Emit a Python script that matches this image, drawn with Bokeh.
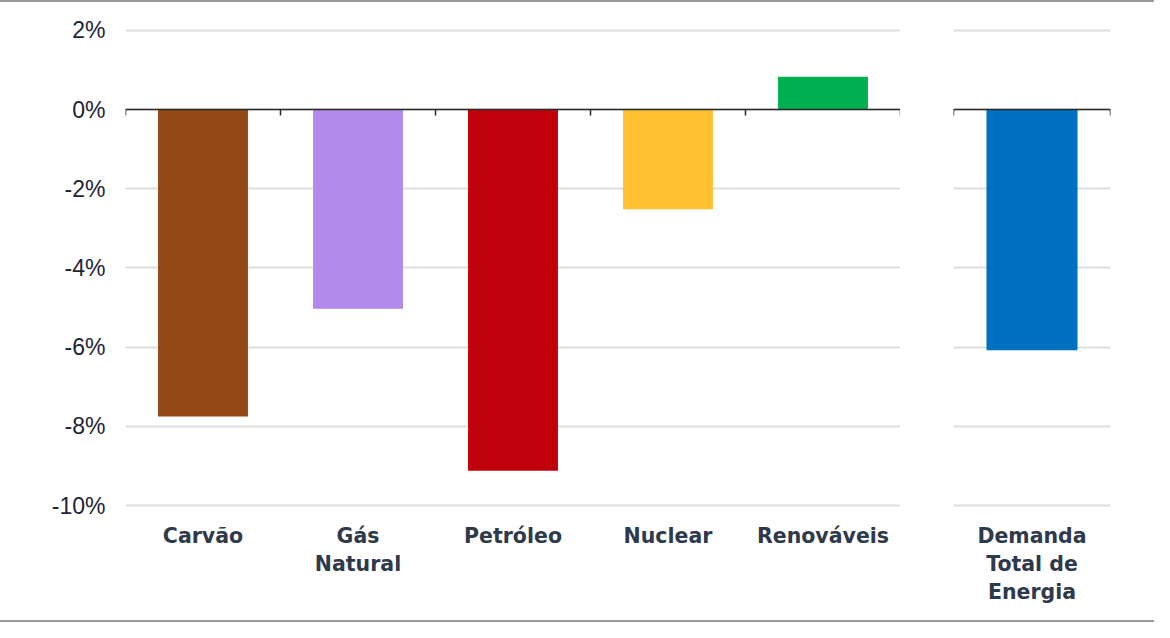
from bokeh.plotting import figure
from bokeh.models import (Range1d, FixedTicker, LinearAxis, PrintfTickFormatter,
                          CustomJSTickFormatter, Grid, Row)
from bokeh.embed import file_html
from bokeh.resources import INLINE

# ---- data ----
categories = ["Carvão", "Gás\nNatural", "Petróleo", "Nuclear", "Renováveis"]
values = [-7.75, -5.03, -9.12, -2.52, 0.83]
colors = ["#944815", "#B18AEB", "#C0000B", "#FFC12F", "#00B050"]
total_category = ["Demanda\nTotal de\nEnergia"]
total_value = [-6.08]
total_color = ["#0070C0"]
y_ticks = [-10, -8, -6, -4, -2, 0, 2]

LABEL_COLOR = "#2E3A4B"
TICK_COLOR = "#1E2433"
GRID_COLOR = "#DEDEDE"
AXIS_COLOR = "#2A2A2A"


def make_panel(cats, vals, cols, frame_width, ml, mr, with_yaxis):
    n = len(cats)
    p = figure(frame_width=frame_width, frame_height=507,
               x_range=Range1d(0, n), y_range=Range1d(-10.3, 2.5),
               output_backend="svg", toolbar_location=None,
               x_axis_location=None, y_axis_location=None,
               min_border_left=ml, min_border_right=mr,
               min_border_top=8, min_border_bottom=103)
    p.outline_line_color = None
    p.background_fill_color = "white"
    p.border_fill_color = "white"
    for g in p.grid:
        g.visible = False
    p.add_layout(Grid(dimension=1, ticker=FixedTicker(ticks=y_ticks),
                      grid_line_color=GRID_COLOR, grid_line_width=2))

    xs = [i + 0.5 for i in range(n)]
    p.vbar(x=xs, top=vals, bottom=0, width=0.58, fill_color=cols,
           line_color=None)

    # category labels
    cat_axis = LinearAxis(ticker=FixedTicker(ticks=xs),
                          major_label_overrides={x: c for x, c in zip(xs, cats)})
    cat_axis.axis_line_color = None
    cat_axis.major_tick_line_color = None
    cat_axis.minor_tick_line_color = None
    cat_axis.major_tick_out = 0
    cat_axis.major_tick_in = 0
    cat_axis.major_label_standoff = 6
    cat_axis.major_label_text_font = "DejaVu Sans"
    cat_axis.major_label_text_font_style = "bold"
    cat_axis.major_label_text_font_size = "20.5px"
    cat_axis.major_label_text_color = LABEL_COLOR
    cat_axis.major_label_text_line_height = 1.18
    p.add_layout(cat_axis, "below")

    # zero line with boundary ticks
    zero_axis = LinearAxis(fixed_location=0,
                           ticker=FixedTicker(ticks=list(range(n + 1))),
                           formatter=CustomJSTickFormatter(code="return ''"))
    zero_axis.axis_line_color = AXIS_COLOR
    zero_axis.axis_line_width = 1.5
    zero_axis.major_tick_line_color = AXIS_COLOR
    zero_axis.major_tick_line_width = 1.5
    zero_axis.major_tick_out = 6
    zero_axis.major_tick_in = 0
    zero_axis.minor_tick_line_color = None
    zero_axis.major_label_text_font_size = "1px"
    p.add_layout(zero_axis, "below")

    if with_yaxis:
        yax = LinearAxis(ticker=FixedTicker(ticks=y_ticks),
                         formatter=PrintfTickFormatter(format="%d%%"))
        yax.axis_line_color = None
        yax.major_tick_line_color = None
        yax.minor_tick_line_color = None
        yax.major_tick_out = 0
        yax.major_tick_in = 0
        yax.major_label_standoff = 20
        yax.major_label_text_font = "Liberation Sans"
        yax.major_label_text_font_size = "23px"
        yax.major_label_text_color = TICK_COLOR
        p.add_layout(yax, "left")
    return p


left = make_panel(categories, values, colors, 775, 125, 0, True)
right = make_panel(total_category, total_value, total_color, 157, 53, 44, False)

layout = Row(children=[left, right], spacing=0,
             styles={"border-top": "2px solid #9A9A9A",
                     "border-bottom": "2px solid #9A9A9A",
                     "background-color": "white"})

open("out.html", "w").write(file_html(layout, INLINE))
